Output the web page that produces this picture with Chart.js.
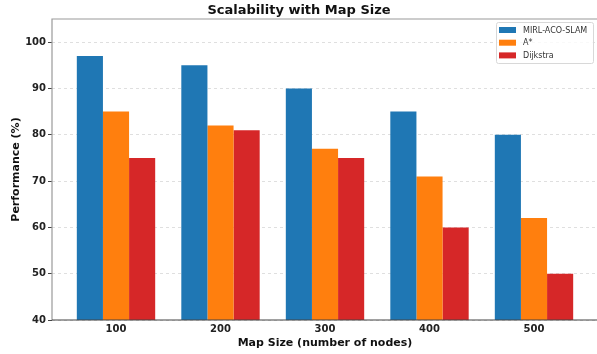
<!DOCTYPE html>
<html>
<head>
<meta charset="utf-8">
<script src="https://cdn.jsdelivr.net/npm/chart.js@4"></script>
<style>
  html, body { margin: 0; padding: 0; background: #fff; overflow: hidden; }
  #wrap { width: 600px; height: 354px; }
</style>
</head>
<body>
<div id="wrap"><canvas id="scalability"></canvas></div>
<script>
// values
const mapSizes = ["100", "200", "300", "400", "500"];
const mirlAcoSlam = [97, 95, 90, 85, 80];
const aStar = [85, 82, 77, 71, 62];
const dijkstra = [75, 81, 75, 60, 50];
const yTicks = [40, 50, 60, 70, 80, 90, 100];

const FONT = "'DejaVu Sans', sans-serif";

const toPoints = (values) => values.map((v, i) => ({ x: i, y: v }));

// frame around the plot area (matplotlib spines), right one falls off the picture
const framePlugin = {
  id: "frame",
  afterDatasetsDraw(chart) {
    const { ctx, chartArea: a } = chart;
    ctx.save();
    ctx.strokeStyle = "#9a9a9a";
    ctx.lineWidth = 1.2;
    ctx.beginPath();
    ctx.moveTo(a.left, a.bottom);
    ctx.lineTo(a.left, a.top);
    ctx.lineTo(a.right, a.top);
    ctx.stroke();
    ctx.strokeStyle = "#444";
    ctx.beginPath();
    ctx.moveTo(a.left, a.bottom);
    ctx.lineTo(a.right, a.bottom);
    ctx.stroke();
    ctx.restore();
  },
};

// legend box inside the upper right corner
const innerLegend = {
  id: "innerLegend",
  afterDraw(chart) {
    const { ctx, chartArea: a } = chart;
    const sets = chart.data.datasets;
    const w = 97, h = 41;
    const x = a.right - 5 - w, y = a.top + 3;
    ctx.save();
    ctx.fillStyle = "rgba(255,255,255,0.8)";
    ctx.strokeStyle = "#d8d8d8";
    ctx.lineWidth = 1;
    ctx.beginPath();
    ctx.roundRect(x + 0.5, y + 0.5, w, h, 2);
    ctx.fill();
    ctx.stroke();
    ctx.font = "8px " + FONT;
    ctx.textBaseline = "middle";
    sets.forEach((ds, i) => {
      const cy = y + 8 + i * 12.7;
      ctx.fillStyle = ds.backgroundColor;
      ctx.fillRect(x + 3, cy - 3, 17, 6);
      ctx.fillStyle = "#333";
      ctx.fillText(ds.label, x + 27, cy + 0.5);
    });
    ctx.restore();
  },
};

const createBarChart = (canvas) => {
  const ctx = canvas.getContext("2d");

  return new Chart(ctx, {
    type: "bar",
    data: {
      datasets: [
        { label: "MIRL-ACO-SLAM", data: toPoints(mirlAcoSlam), backgroundColor: "#1f77b4" },
        { label: "A*", data: toPoints(aStar), backgroundColor: "#ff7f0e" },
        { label: "Dijkstra", data: toPoints(dijkstra), backgroundColor: "#d62728" },
      ],
    },
    options: {
      responsive: true,
      maintainAspectRatio: false,
      animation: false,
      layout: { padding: { left: 0, right: 2, top: 0, bottom: 0 } },
      datasets: {
        bar: {
          categoryPercentage: 0.75,
          barPercentage: 1.0,
          borderWidth: 0,
        },
      },
      scales: {
        x: {
          type: "linear",
          offset: false,
          min: -0.6125,
          max: 4.6125,
          afterBuildTicks: (scale) => {
            scale.ticks = mapSizes.map((_, i) => ({ value: i }));
          },
          afterFit: (scale) => { scale.height = 34; },
          ticks: {
            callback: (v) => mapSizes[v],
            padding: 3,
            color: "#222",
            font: { family: FONT, size: 10, weight: "bold" },
            maxRotation: 0,
          },
          grid: {
            display: true,
            drawOnChartArea: false,
            drawTicks: false,
            color: "rgba(0,0,0,0)",
            offset: false,
          },
          border: { display: false },
          title: {
            display: true,
            text: "Map Size (number of nodes)",
            color: "#111",
            font: { family: FONT, size: 11, weight: "bold" },
            padding: { top: 2, bottom: 4 },
          },
        },
        y: {
          min: 40,
          max: 105,
          afterBuildTicks: (scale) => {
            scale.ticks = yTicks.map((v) => ({ value: v }));
          },
          afterFit: (scale) => { scale.width = 52; },
          ticks: {
            padding: 2,
            color: "#222",
            font: { family: FONT, size: 10, weight: "bold" },
          },
          grid: {
            color: "rgba(0,0,0,0.16)",
            lineWidth: 0.8,
            tickLength: 4,
            tickColor: "#444",
            tickWidth: 1,
            tickBorderDash: [],
          },
          border: { display: false, dash: [3, 3] },
          title: {
            display: true,
            text: "Performance (%)",
            color: "#111",
            font: { family: FONT, size: 11, weight: "bold" },
            padding: { top: 10, bottom: 4 },
          },
        },
      },
      plugins: {
        legend: { display: false },
        tooltip: { enabled: false },
        title: {
          display: true,
          text: "Scalability with Map Size",
          color: "#111",
          font: { family: FONT, size: 13, weight: "bold" },
          padding: { top: 3, bottom: 0.4 },
        },
      },
    },
    plugins: [framePlugin, innerLegend],
  });
};

(function renderChart() {
  const canvas = document.getElementById("scalability");
  createBarChart(canvas);
})();
</script>
</body>
</html>
